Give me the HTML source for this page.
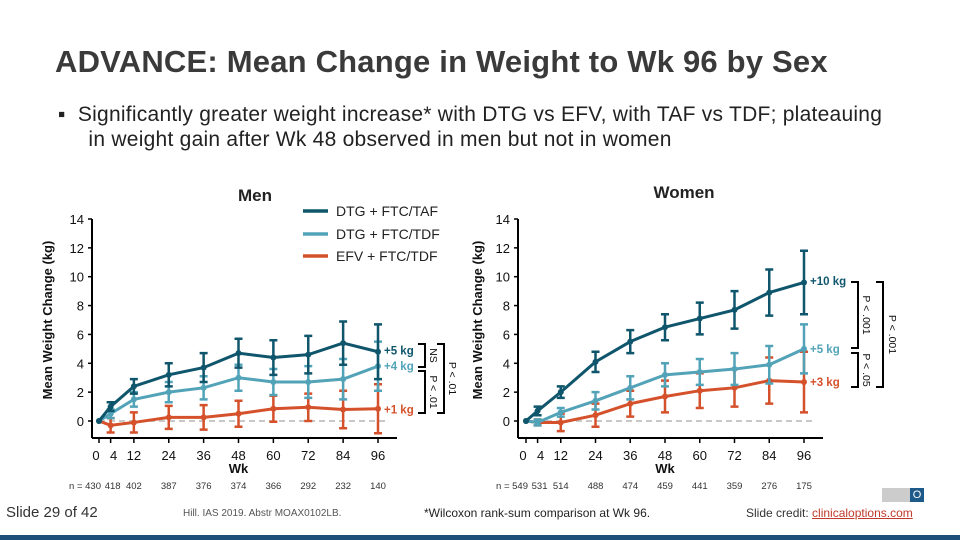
<!DOCTYPE html>
<html><head><meta charset="utf-8"><style>
body{margin:0;width:960px;height:540px;background:#fff;overflow:hidden;position:relative;font-family:"Liberation Sans",sans-serif}
.abs{position:absolute;white-space:nowrap}
svg text{font-family:"Liberation Sans",sans-serif}
</style></head><body>
<div class="abs" style="left:55px;top:44px;font-size:31px;font-weight:bold;color:#3a3a3a;letter-spacing:0.2px">ADVANCE: Mean Change in Weight to Wk 96 by Sex</div>
<div class="abs" style="left:58px;top:102px;font-size:21px;color:#222;line-height:25px;letter-spacing:0.25px">▪&nbsp; Significantly greater weight increase* with DTG vs EFV, with TAF vs TDF; plateauing<br>&nbsp;&nbsp;&nbsp;&nbsp; in weight gain after Wk 48 observed in men but not in women</div>
<svg width="960" height="540" style="position:absolute;left:0;top:0" id="chart"></svg>
<div class="abs" style="left:6px;top:504px;font-size:15px;color:#333">Slide 29 of 42</div>
<div class="abs" style="left:183px;top:508px;font-size:10px;color:#555">Hill. IAS 2019. Abstr MOAX0102LB.</div>
<div class="abs" style="left:424px;top:506px;font-size:12px;color:#222">*Wilcoxon rank-sum comparison at Wk 96.</div>
<div class="abs" style="left:746px;top:506px;font-size:12px;color:#333">Slide credit: <span style="color:#c0392b;text-decoration:underline">clinicaloptions.com</span></div>
<div class="abs" style="left:882px;top:488px;width:42px;height:14px;background:#ccc"><span style="position:absolute;right:0;top:0;width:14px;height:14px;background:#1d5a8a;color:#fff;font-size:11px;text-align:center;line-height:14px">O</span></div>
<div class="abs" style="left:0;top:535px;width:960px;height:5px;background:#1d4f7a"></div>
<script>
const weeks=[0,4,12,24,36,48,60,72,84,96];
const yTicks=[0,2,4,6,8,10,12,14];
const xTickLabels=["0","4","12","24","36","48","60","72","84","96"];
const menTAF=[0,1.0,2.4,3.2,3.7,4.7,4.4,4.6,5.4,4.8];
const menTAFerr=[0,0.3,0.5,0.8,1.0,1.0,1.2,1.3,1.5,1.9];
const menTDF=[0,0.5,1.5,2.0,2.3,3.0,2.7,2.7,2.9,3.8];
const menTDFerr=[0,0.3,0.5,0.7,0.8,0.9,0.9,1.1,1.4,1.7];
const menEFV=[0,-0.3,-0.1,0.25,0.25,0.5,0.85,0.95,0.8,0.85];
const menEFVerr=[0,0.5,0.7,0.8,0.85,0.9,0.9,0.95,1.3,1.7];
const womenTAF=[0,0.7,2.0,4.1,5.5,6.5,7.1,7.7,8.9,9.6];
const womenTAFerr=[0,0.3,0.4,0.7,0.8,0.9,1.1,1.3,1.6,2.2];
const womenTDF=[0,-0.1,0.6,1.4,2.3,3.2,3.4,3.6,3.9,5.0];
const womenTDFerr=[0,0.2,0.3,0.6,0.8,0.8,0.9,1.1,1.3,1.7];
const womenEFV=[0,-0.1,-0.1,0.4,1.2,1.7,2.1,2.3,2.8,2.7];
const womenEFVerr=[0,0.2,0.6,0.8,0.9,1.1,1.2,1.3,1.6,2.1];
const menN=["n = 430","418","402","387","376","374","366","292","232","140"];
const womenN=["n = 549","531","514","488","474","459","441","359","276","175"];
const C={taf:"#0f566c",tdf:"#52a3b8",efv:"#d5512b"};
const svg=document.getElementById('chart');
const NS="http://www.w3.org/2000/svg";
function mk(tag,a,txt){const e=document.createElementNS(NS,tag);for(const k in a)e.setAttribute(k,a[k]);if(txt!==undefined)e.textContent=txt;svg.appendChild(e);return e;}
function panel(p){
  const X=w=>p.x0+w*(p.x96-p.x0)/96, Y=v=>421-v*202/14;
  let e;
  e=mk('line',{x1:p.ax,y1:219,x2:p.ax,y2:438,stroke:'#000','stroke-width':2});
  
  e=mk('line',{x1:p.ax,y1:438,x2:p.xend,y2:438,stroke:'#000','stroke-width':2});
  
  e=mk('line',{x1:X(0),y1:Y(0),x2:X(96)+8,y2:Y(0),stroke:'#c8c8c8','stroke-width':2,'stroke-dasharray':'6,4'});
  
  yTicks.forEach(t=>{mk('line',{x1:p.ax-4,y1:Y(t),x2:p.ax,y2:Y(t),stroke:'#000','stroke-width':1.5});
    e=mk('text',{x:p.ax-8,y:Y(t)+5,'text-anchor':'end','font-size':13,fill:'#111'},String(t));
    });
  weeks.forEach((w,i)=>{mk('line',{x1:X(w),y1:438,x2:X(w),y2:443,stroke:'#000','stroke-width':1.5});
    e=mk('text',{x:X(w)+(i==0?-3:i==1?3:0),y:460,'text-anchor':'middle','font-size':13,fill:'#111'},xTickLabels[i]);
    
    e=mk('text',{x:i==0?X(w)-14:X(w)+(i==1?2:0),y:489,'text-anchor':'middle','font-size':9.5,fill:'#333'},p.n[i]);
    });
  e=mk('text',{x:X(48),y:473,'text-anchor':'middle','font-size':13,'font-weight':'bold',fill:'#111'},'Wk');
  
  e=mk('text',{x:0,y:0,transform:`translate(${p.ytx},320) rotate(-90)`,'text-anchor':'middle','font-size':13,'font-weight':'bold',fill:'#111'},'Mean Weight Change (kg)');
  
  e=mk('text',{x:p.tx,y:p.ty,'text-anchor':'middle','font-size':17,'font-weight':'bold',fill:'#222'},p.title);
  
  p.series.forEach(s=>{
    weeks.forEach((w,i)=>{if(i==0)return;const x=X(w),e1=s.err[i];
      e=mk('path',{d:`M${x},${Y(s.v[i]+e1)}V${Y(s.v[i]-e1)}M${x-4},${Y(s.v[i]+e1)}h8M${x-4},${Y(s.v[i]-e1)}h8`,stroke:C[s.k],'stroke-width':2.5,fill:'none'});
      });
    e=mk('polyline',{points:weeks.map((w,i)=>X(w)+','+Y(s.v[i])).join(' '),stroke:C[s.k],'stroke-width':3,fill:'none'});
    
    weeks.forEach((w,i)=>{e=mk('circle',{cx:X(w),cy:Y(s.v[i]),r:3,fill:C[s.k]});
      });
    e=mk('text',{x:X(96)+6,y:Y(s.lv)+4,'font-size':11.5,'font-weight':'bold',fill:C[s.k]},s.label);
    
  });
}
panel({name:'men',x0:99,x96:378,ax:92,xend:397,ytx:52,tx:255,ty:201,title:'Men',n:menN,series:[
 {k:'efv',v:menEFV,err:menEFVerr,label:'+1 kg',lv:0.8},
 {k:'tdf',v:menTDF,err:menTDFerr,label:'+4 kg',lv:3.8},
 {k:'taf',v:menTAF,err:menTAFerr,label:'+5 kg',lv:4.9}]});
panel({name:'women',x0:526,x96:804,ax:518,xend:823,ytx:482,tx:684,ty:198,title:'Women',n:womenN,series:[
 {k:'efv',v:womenEFV,err:womenEFVerr,label:'+3 kg',lv:2.7},
 {k:'tdf',v:womenTDF,err:womenTDFerr,label:'+5 kg',lv:5.0},
 {k:'taf',v:womenTAF,err:womenTAFerr,label:'+10 kg',lv:9.7}]});
[['taf','DTG + FTC/TAF',211],['tdf','DTG + FTC/TDF',234],['efv','EFV + FTC/TDF',256]].forEach(l=>{
  let e=mk('line',{x1:303,y1:l[2],x2:328,y2:l[2],stroke:C[l[0]],'stroke-width':3.5});
  
  e=mk('text',{x:336,y:l[2]+5,'font-size':14,fill:'#222'},l[1]);
  });
function br(x,y1,y2,lab,lx,name){let e=mk('path',{d:`M${x-7},${y1}H${x}V${y2}H${x-7}`,stroke:'#000','stroke-width':2,fill:'none'});
 
 e=mk('text',{x:0,y:0,transform:`translate(${lx},${(y1+y2)/2}) rotate(90)`,'text-anchor':'middle','font-size':10.5,fill:'#111'},lab);
 }
br(425,344,367,'NS',430,'men-ns');br(425,371,413,'P < .01',430,'men-tdf-efv');br(444,344,413,'P < .01',449,'men-taf-efv');
br(858,282,348,'P < .001',863,'women-taf-tdf');br(858,353,387,'P < .05',863,'women-tdf-efv');br(883,282,387,'P < .001',889,'women-taf-efv');
</script>
</body></html>
